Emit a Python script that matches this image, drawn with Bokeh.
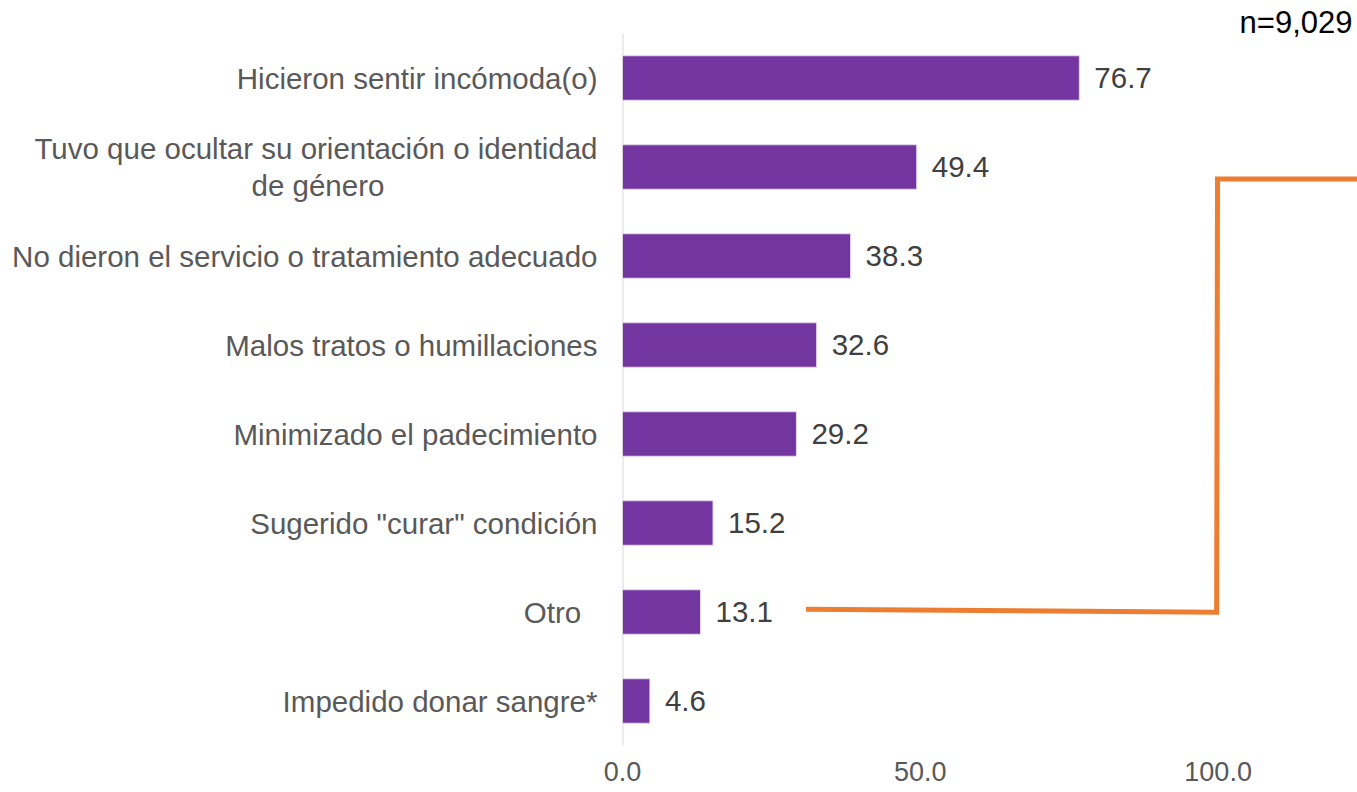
from bokeh.plotting import figure
from bokeh.models import Range1d, FixedTicker
from bokeh.core.properties import value
from bokeh.embed import file_html
from bokeh.resources import INLINE

# ---- data ----
NBSP = "\u00a0"
categories = [
    "Hicieron sentir incómoda(o)",
    "Tuvo que ocultar su orientación o identidad\nde género" + NBSP * 26,
    "No dieron el servicio o tratamiento adecuado",
    "Malos tratos o humillaciones",
    "Minimizado el padecimiento",
    'Sugerido "curar" condición',
    "Otro" + NBSP * 2,
    "Impedido donar sangre*",
]
values = [76.7, 49.4, 38.3, 32.6, 29.2, 15.2, 13.1, 4.6]
value_labels = [f"{v:.1f}" for v in values]
x_ticks = [0, 50, 100]
x_tick_labels = {0: "0.0", 50: "50.0", 100: "100.0"}
sample_note = "n=9,029"
# orange connector line (decoration from original slide)
connector_x = [30.8, 99.75, 99.9, 124.0]
connector_y = [1.531, 1.498, 6.365, 6.365]

FONT = "Liberation Sans"

n = len(categories)
# category slots: first category on top, one unit per category
ypos = [n - i - 0.5 for i in range(n)]
X_END = 123.4
PX = 89.0                 # pixels per category slot
Y_END = n + 33 / PX       # room above the bars for the sample note
Y_START = -6 / PX         # small room below the last slot

p = figure(
    x_range=Range1d(0, X_END),
    y_range=Range1d(Y_START, Y_END),
    frame_width=735, frame_height=751,
    min_border_left=622, min_border_right=0,
    min_border_top=0, min_border_bottom=41,
    output_backend="svg", toolbar_location=None,
)
p.outline_line_color = None
p.xgrid.grid_line_color = None
p.ygrid.grid_line_color = None
p.background_fill_color = "white"
p.border_fill_color = "white"

# vertical category axis line (only over the category slots)
p.segment(x0=[0], y0=[0], x1=[0], y1=[n], line_color="#D9D9D9", line_width=2)

p.hbar(y=ypos, right=values, left=0, height=0.5,
       fill_color="#7335A0", line_color="#E4DAEE", line_width=1)

p.text(x=values, y=ypos, text=value_labels, x_offset=15,
       text_baseline="middle", text_align="left",
       text_font_size="29.5px", text_color="#404040", text_font=value(FONT))

p.line(x=connector_x, y=connector_y, line_color="#ED7D31", line_width=5,
       line_join="miter")

p.text(x=[X_END], y=[n + 11 / PX], text=[sample_note], x_offset=-5,
       text_align="right", text_baseline="middle",
       text_font_size="31px", text_color="#000000", text_font=value(FONT))

# y axis (category labels)
ya = p.yaxis[0]
ya.ticker = FixedTicker(ticks=ypos)
ya.major_label_overrides = {y: c for y, c in zip(ypos, categories)}
ya.axis_line_color = None
ya.major_tick_line_color = None
ya.minor_tick_line_color = None
ya.major_tick_out = 0
ya.major_tick_in = 0
ya.major_label_standoff = 25
ya.major_label_text_font = FONT
ya.major_label_text_font_size = "29.5px"
ya.major_label_text_color = "#595959"
ya.major_label_text_line_height = 1.15

# x axis
xa = p.xaxis[0]
xa.ticker = FixedTicker(ticks=x_ticks)
xa.major_label_overrides = x_tick_labels
xa.axis_line_color = None
xa.major_tick_line_color = None
xa.minor_tick_line_color = None
xa.major_tick_out = 0
xa.major_tick_in = 0
xa.major_label_standoff = 10
xa.major_label_text_font = FONT
xa.major_label_text_font_size = "27px"
xa.major_label_text_color = "#595959"

open("out.html", "w").write(file_html(p, INLINE))
